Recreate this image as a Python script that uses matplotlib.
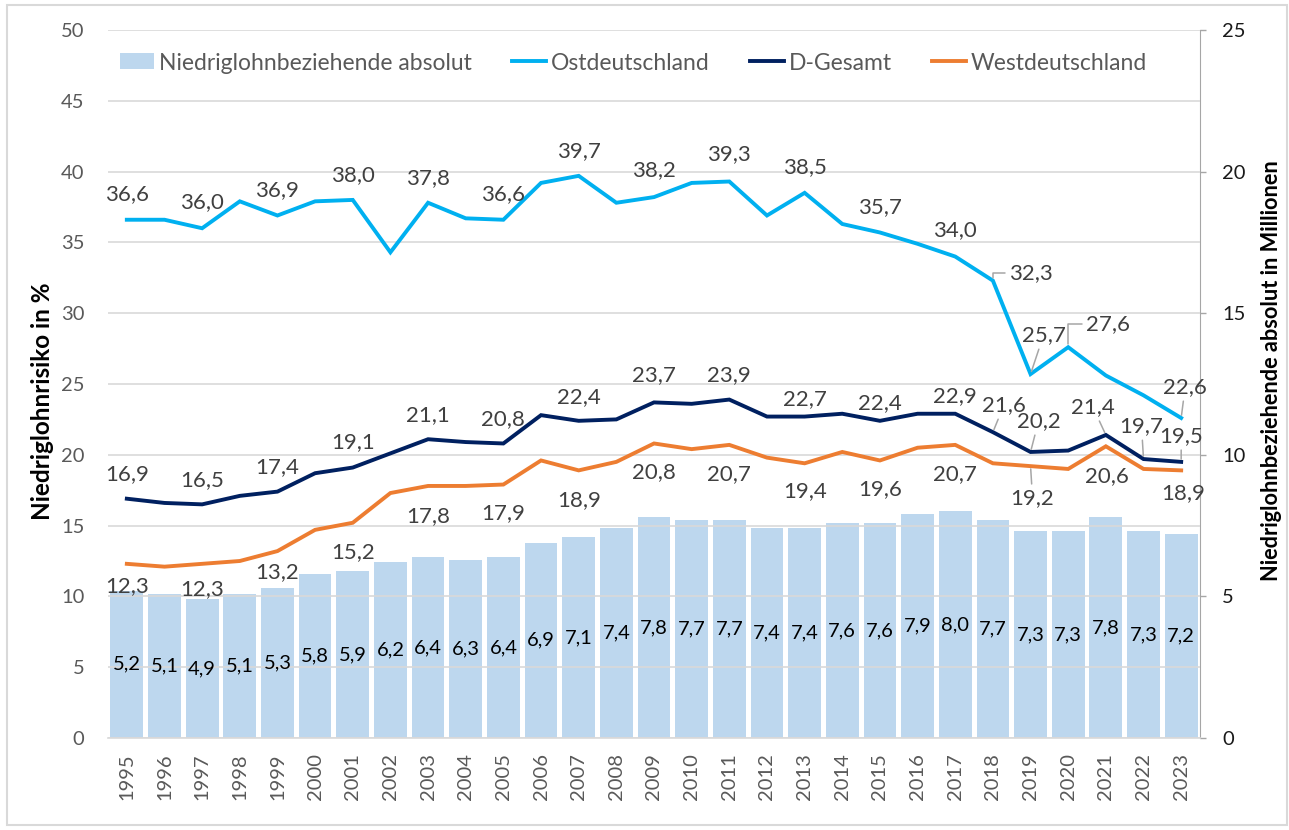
import matplotlib
matplotlib.use('Agg')
import matplotlib.pyplot as plt
from matplotlib.patches import Patch, Rectangle
from matplotlib.lines import Line2D

# ---------------- data ----------------
years = [str(y) for y in range(1995, 2024)]
absolut = [5.2, 5.1, 4.9, 5.1, 5.3, 5.8, 5.9, 6.2, 6.4, 6.3, 6.4, 6.9, 7.1, 7.4, 7.8,
           7.7, 7.7, 7.4, 7.4, 7.6, 7.6, 7.9, 8.0, 7.7, 7.3, 7.3, 7.8, 7.3, 7.2]
ost = [36.6, 36.6, 36.0, 37.9, 36.9, 37.9, 38.0, 34.3, 37.8, 36.7, 36.6, 39.2, 39.7, 37.8, 38.2,
       39.2, 39.3, 36.9, 38.5, 36.3, 35.7, 34.9, 34.0, 32.3, 25.7, 27.6, 25.6, 24.2, 22.6]
gesamt = [16.9, 16.6, 16.5, 17.1, 17.4, 18.7, 19.1, 20.1, 21.1, 20.9, 20.8, 22.8, 22.4, 22.5, 23.7,
          23.6, 23.9, 22.7, 22.7, 22.9, 22.4, 22.9, 22.9, 21.6, 20.2, 20.3, 21.4, 19.7, 19.5]
west = [12.3, 12.1, 12.3, 12.5, 13.2, 14.7, 15.2, 17.3, 17.8, 17.8, 17.9, 19.6, 18.9, 19.5, 20.8,
        20.4, 20.7, 19.8, 19.4, 20.2, 19.6, 20.5, 20.7, 19.4, 19.2, 19.0, 20.6, 19.0, 18.9]

name_bar = "Niedriglohnbeziehende absolut"
name_ost = "Ostdeutschland"
name_ges = "D-Gesamt"
name_west = "Westdeutschland"
ylabel_left = "Niedriglohnrisiko in %"
ylabel_right = "Niedriglohnbeziehende absolut in Millionen"

# ---------------- layout / style ----------------
FONT = ['Lato', 'DejaVu Sans']
plt.rcParams['font.family'] = FONT
C_BAR = '#BDD7EE'
C_OST = '#00B0F0'
C_GES = '#002060'
C_WEST = '#ED7D31'
C_GRID = '#D9D9D9'
C_TXT = '#404040'
C_TICK = '#595959'
C_LEAD = '#A6A6A6'

W, H = 1289, 830
fig = plt.figure(figsize=(W / 100, H / 100), dpi=100)
L, R, B, T = 108 / W, 1200 / W, 1 - 738 / H, 1 - 30 / H
ax2 = fig.add_axes([L, B, R - L, T - B])   # bars (right axis)
ax = fig.add_axes([L, B, R - L, T - B])    # lines (left axis), drawn on top
ax.set_zorder(ax2.get_zorder() + 1)
ax.patch.set_visible(False)

x = list(range(len(years)))

# bars
ax2.bar(x, absolut, width=0.87, color=C_BAR, zorder=2)
ax2.set_ylim(0, 25)
ax2.set_xlim(-0.5, len(years) - 0.5)
ax2.yaxis.tick_right()
ax2.set_yticks(range(0, 26, 5))
ax2.tick_params(axis='y', direction='out', length=4, width=1, color=C_LEAD,
                labelsize=14.5, labelcolor='#1a1a1a', pad=12)
ax2.set_xticks([])
for s in ['top', 'left', 'bottom']:
    ax2.spines[s].set_visible(False)
ax2.spines['right'].set_color(C_LEAD)

# lines
ax.plot(x, ost, color=C_OST, lw=2.8, solid_joinstyle='miter', zorder=4)
ax.plot(x, gesamt, color=C_GES, lw=2.8, solid_joinstyle='miter', zorder=4)
ax.plot(x, west, color=C_WEST, lw=2.8, solid_joinstyle='miter', zorder=4)
ax.set_ylim(0, 50)
ax.set_xlim(-0.5, len(years) - 0.5)
ax.set_yticks(range(0, 51, 5))
ax.yaxis.grid(True, color=C_GRID, lw=1.2, zorder=1)
ax.set_axisbelow(True)
ax.tick_params(axis='y', length=0, labelsize=14.5, labelcolor=C_TICK, pad=17)
ax.set_xticks(x)
ax.set_xticklabels(years, rotation=90)
ax.tick_params(axis='x', length=0, labelsize=14.5, labelcolor=C_TICK, pad=11)
for s in ['top', 'left', 'right']:
    ax.spines[s].set_visible(False)
ax.spines['bottom'].set_color(C_GRID)
ax.spines['bottom'].set_linewidth(1.2)

# bar value labels (on top of gridlines)
for i, v in enumerate(absolut):
    ax.text(i, v / 2, f"{v:.1f}".replace('.', ','), transform=ax2.transData,
            ha='center', va='center', fontsize=14.5, color='black', zorder=3)

# axis titles
fig.text(43 / W, 1 - 401 / H, ylabel_left, rotation=90, ha='center', va='center',
         fontsize=17.5, fontweight='bold', color='black')
fig.text(1271 / W, 1 - 371 / H, ylabel_right, rotation=90, ha='center', va='center',
         fontsize=15.7, fontweight='bold', color='black')

# data labels (offsets in pixels: dx, dy with dy positive = downward)
ost_lab = {0: (0, -26), 2: (0, -26), 4: (0, -25), 6: (0, -25), 8: (0, -25), 10: (0, -26),
           12: (0, -25), 14: (0, -27), 16: (0, -27), 18: (0, -26), 20: (0, -25),
           22: (0, -26), 23: (38, -8), 24: (13, -39), 25: (40, -23), 28: (4, -31)}
ost_lead = {23: 'angle', 24: 'line', 25: 'angle', 28: 'line'}
ges_lab = {0: (0, -25), 2: (0, -24), 4: (0, -25), 6: (0, -25), 8: (0, -24), 10: (0, -24),
           12: (0, -24), 14: (0, -27), 16: (0, -24), 18: (0, -17), 20: (0, -18),
           22: (0, -18), 23: (11, -27), 24: (8, -31), 26: (-13, -28), 27: (-2, -33),
           28: (0, -26)}
ges_lead = {23: 'line', 24: 'line', 26: 'line', 27: 'line', 28: 'line'}
west_lab = {0: (0, 22), 2: (0, 25), 4: (0, 21), 6: (0, 29), 8: (0, 30), 10: (0, 29),
            12: (0, 30), 14: (0, 29), 16: (0, 29), 18: (0, 28), 20: (0, 29), 22: (0, 29),
            24: (2, 32), 26: (1, 30), 28: (2, 23)}
west_lead = {24: 'line'}

PX2PT = 0.72


def put_labels(series, labs, leads):
    for i, (dx, dy) in labs.items():
        v = series[i]
        txt = f"{v:.1f}".replace('.', ',')
        kw = {}
        if i in leads:
            cs = 'angle,angleA=0,angleB=90,rad=0' if leads[i] == 'angle' else 'arc3'
            kw['arrowprops'] = dict(arrowstyle='-', color=C_LEAD, lw=1.1,
                                    shrinkA=1, shrinkB=2, connectionstyle=cs)
        ax.annotate(txt, (i, v), xytext=(dx * PX2PT, -dy * PX2PT),
                    textcoords='offset points', ha='center', va='center',
                    fontsize=16, color=C_TXT, zorder=6, **kw)


put_labels(ost, ost_lab, ost_lead)
put_labels(gesamt, ges_lab, ges_lead)
put_labels(west, west_lab, west_lead)

# legend
handles = [Patch(facecolor=C_BAR, edgecolor='none'),
           Line2D([], [], color=C_OST, lw=2.8),
           Line2D([], [], color=C_GES, lw=2.8),
           Line2D([], [], color=C_WEST, lw=2.8)]
leg = fig.legend(handles, [name_bar, name_ost, name_ges, name_west],
                 loc='center left', bbox_to_anchor=(120 / W, 1 - 63 / H), ncol=4,
                 frameon=False, fontsize=16.5, handlelength=1.5, handletextpad=0.2,
                 columnspacing=1.75, handleheight=0.7, borderaxespad=0, borderpad=0)
for t in leg.get_texts():
    t.set_color(C_TICK)

# outer frame
fig.patches.append(Rectangle((7 / W, 5 / H), 1 - 9 / W, 1 - 10 / H, transform=fig.transFigure,
                             fill=False, edgecolor=C_GRID, lw=1.5))

fig.savefig('out.png', dpi=100)
